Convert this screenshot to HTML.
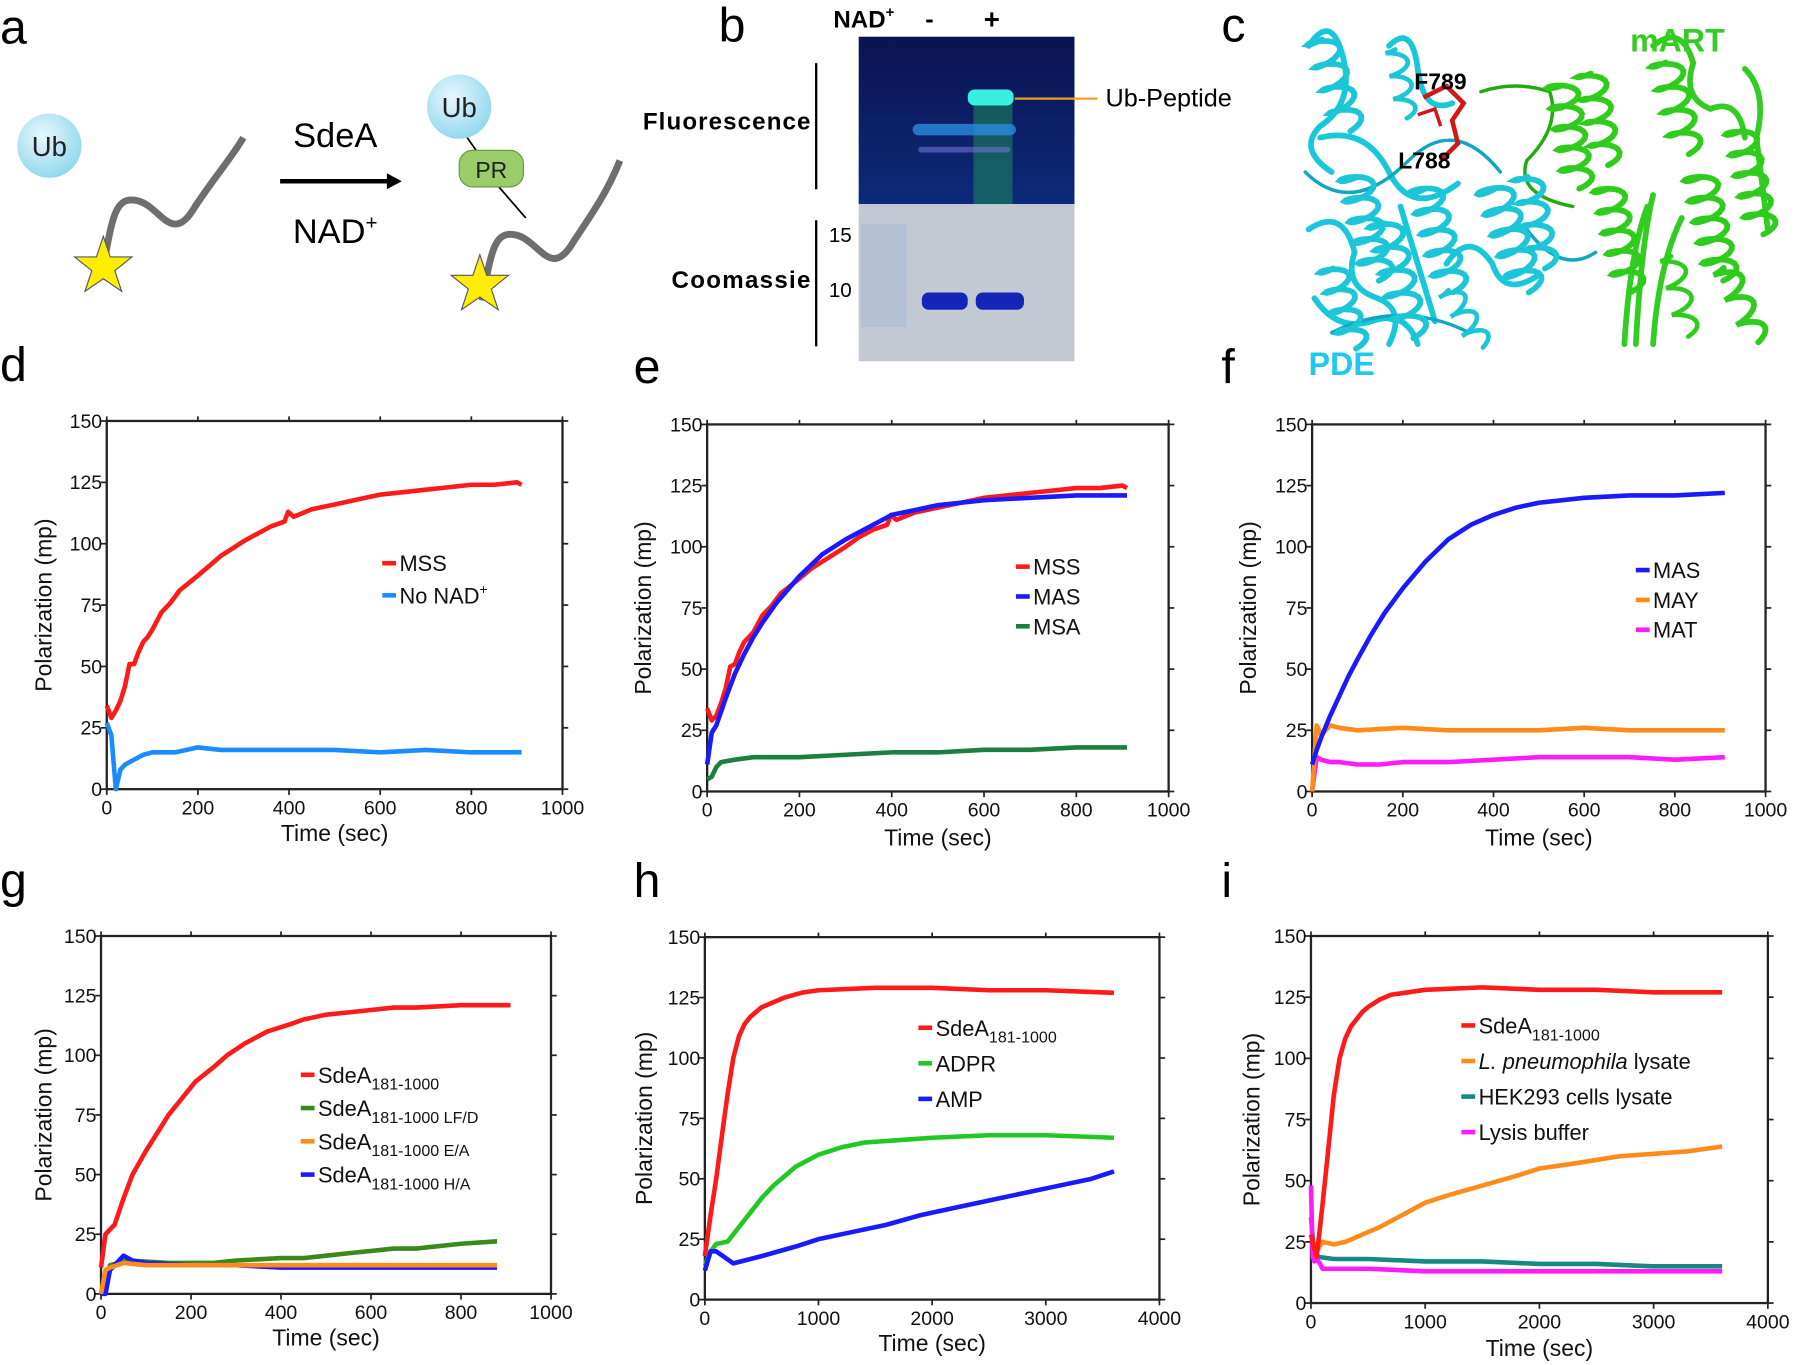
<!DOCTYPE html>
<html><head><meta charset="utf-8">
<style>
html,body{margin:0;padding:0;background:#fff;}
svg{display:block;font-family:"Liberation Sans",sans-serif;}
</style></head>
<body>
<svg id="fig" width="1800" height="1365" viewBox="0 0 1568 1190" preserveAspectRatio="none" xmlns="http://www.w3.org/2000/svg">
<defs>
<radialGradient id="ubg" cx="40%" cy="35%" r="70%"><stop offset="0" stop-color="#e8f8fd"/><stop offset="1" stop-color="#8ed6ee"/></radialGradient>
<linearGradient id="flg" x1="0" y1="0" x2="0" y2="1"><stop offset="0" stop-color="#0b1450"/><stop offset="1" stop-color="#0c2a7a"/></linearGradient>
</defs>
<g font-size="42" fill="#000">
<text x="0" y="38">a</text>
<text x="626" y="36">b</text>
<text x="1064" y="36">c</text>
<text x="0" y="332">d</text>
<text x="552" y="334">e</text>
<text x="1064" y="334">f</text>
<text x="0" y="782">g</text>
<text x="552" y="782">h</text>
<text x="1064" y="782">i</text>
</g>
<!-- panel a -->
<g>
<circle cx="43" cy="127" r="28" fill="url(#ubg)"/>
<text x="43" y="136" font-size="24" text-anchor="middle" fill="#222">Ub</text>
<path d="M90,232 C98,190 100,170 120,175 C140,180 150,215 170,180 C190,150 200,140 212,120" fill="none" stroke="#6e6e6e" stroke-width="6"/>
<polygon points="90,206 96,224 115,224 100,236 106,254 90,243 74,254 80,236 65,224 84,224" fill="#ffee00" stroke="#556" stroke-width="1"/>
<text x="292" y="128" font-size="30" text-anchor="middle">SdeA</text>
<line x1="244" y1="158" x2="340" y2="158" stroke="#000" stroke-width="4"/>
<polygon points="337,151 350,158 337,165" fill="#000"/>
<text x="292" y="212" font-size="30" text-anchor="middle">NAD<tspan font-size="18" dy="-12">+</tspan></text>
<path d="M420,262 C428,220 430,200 450,205 C470,210 480,245 500,210 C520,180 530,165 540,140" fill="none" stroke="#6e6e6e" stroke-width="6"/>
<line x1="400" y1="110" x2="428" y2="150" stroke="#000" stroke-width="1.5"/>
<line x1="432" y1="160" x2="458" y2="190" stroke="#000" stroke-width="1.5"/>
<circle cx="400" cy="93" r="28" fill="url(#ubg)"/>
<text x="400" y="102" font-size="24" text-anchor="middle" fill="#222">Ub</text>
<rect x="400" y="131" width="56" height="32" rx="12" fill="#9acd6a" stroke="#5f9a3a"/>
<text x="428" y="155" font-size="20" text-anchor="middle" fill="#222">PR</text>
<polygon points="418,222 424,240 443,240 428,252 434,270 418,259 402,270 408,252 393,240 412,240" fill="#ffee00" stroke="#556" stroke-width="1"/>
</g>
<!-- panel b -->
<g>
<text x="726" y="24" font-size="21" font-weight="bold">NAD<tspan font-size="13" dy="-9">+</tspan></text>
<text x="806" y="24" font-size="22" font-weight="bold">-</text>
<text x="857" y="25" font-size="24" font-weight="bold">+</text>
<rect x="748" y="32" width="188" height="146" fill="url(#flg)"/>
<rect x="848" y="85" width="34" height="93" fill="#1e8a5a" opacity="0.55"/>
<rect x="843" y="78" width="40" height="14" rx="6" fill="#39f0e0"/>
<rect x="795" y="108" width="90" height="10" rx="5" fill="#2a8ae0" opacity="0.8"/>
<rect x="800" y="128" width="80" height="5" rx="2" fill="#6a70d0" opacity="0.6"/>
<rect x="748" y="178" width="188" height="137" fill="#c3c9d3"/>
<rect x="750" y="195" width="40" height="90" fill="#9fb3d6" opacity="0.4"/>
<rect x="803" y="255" width="40" height="15" rx="6" fill="#1426b8"/>
<rect x="850" y="255" width="42" height="15" rx="6" fill="#1426b8"/>
<line x1="711" y1="55" x2="711" y2="165" stroke="#000" stroke-width="2"/>
<line x1="711" y1="192" x2="711" y2="302" stroke="#000" stroke-width="2"/>
<text x="706" y="113" font-size="21" font-weight="bold" text-anchor="end" textLength="146">Fluorescence</text>
<text x="706" y="251" font-size="21" font-weight="bold" text-anchor="end" textLength="121">Coomassie</text>
<text x="722" y="211" font-size="18">15</text>
<text x="722" y="259" font-size="18">10</text>
<line x1="884" y1="86" x2="956" y2="86" stroke="#f0a020" stroke-width="2"/>
<text x="963" y="93" font-size="22">Ub-Peptide</text>
</g>
<!-- panel c -->
<g id="structure" fill="none" stroke-linecap="round">
<g stroke="#18c8d8" stroke-width="5">
<path d="M1140,40 q20,-30 30,10 q10,40 -20,60 q-20,20 10,40"/>
<path d="M1220,180 l30,100"/>
<path d="M1140,200 q30,-20 40,20 q-10,30 20,40 q25,10 10,40"/>
<path d="M1210,40 q20,-20 25,20 q5,40 30,30"/>
<path d="M1150,120 q40,-10 60,30 q20,40 60,10"/>
<path d="M1260,230 q20,-30 40,0 q10,30 40,10"/>
<path d="M1145,260 q20,30 50,20 q30,-10 40,20"/>
</g>
<g stroke="#0fa8c0" stroke-width="3">
<path d="M1137,150 q40,40 90,-10 q40,-40 80,10"/>
<path d="M1160,290 q60,-30 120,0"/>
<path d="M1330,200 q30,40 60,20"/>
<path d="M1290,80 q30,-10 60,0 q10,30 -20,60 q-10,30 40,40" stroke="#22aa10"/>
</g>
<g stroke="#33cc22" stroke-width="5">
<path d="M1415,300 q5,-80 20,-120"/>
<path d="M1440,300 q5,-70 25,-110"/>
<path d="M1425,300 q5,-90 15,-130"/>
<path d="M1520,60 q20,20 10,60 l10,80"/>
<path d="M1440,40 q25,-20 35,15 q-10,30 15,40 q25,-10 30,25"/>
</g>
</g>
<g fill="none">
<path d="M1240,85 l20,-10 l15,15 l-10,15 l5,20 l-15,15" stroke="#d01818" stroke-width="4"/>
<path d="M1235,100 l15,-5 l5,15" stroke="#d01818" stroke-width="3"/>
</g>
<text x="1232" y="78" font-size="20" font-weight="bold">F789</text>
<text x="1218" y="147" font-size="20" font-weight="bold">L788</text>
<text x="1420" y="45" font-size="28" font-weight="bold" fill="#33cc22">mART</text>
<text x="1140" y="327" font-size="28" font-weight="bold" fill="#1ec8f0">PDE</text>
<g id="charts"></g>
</svg>
<script>
// ---- Panel d data ----
const dMssT = [0,10,20,30,40,50,60,70,80,90,100,120,140,160,180,200,225,250,275,300,330,360,390,398,410,450,500,550,600,650,700,750,800,850,900,910];
const dMssV = [34,29,32,36,42,51,51,56,60,62,65,72,76,81,84,87,91,95,98,101,104,107,109,113,111,114,116,118,120,121,122,123,124,124,125,124];
const dNoNadT = [0,10,20,30,40,60,80,100,150,200,250,300,400,500,600,700,800,910];
const dNoNadV = [27,22,0,8,10,12,14,15,15,17,16,16,16,16,15,16,15,15];
// ---- Panel e data ----
const eMssT = dMssT;
const eMssV = [34,29,31,36,42,51,52,57,61,63,65,72,76,81,84,87,91,94,97,100,104,107,109,113,111,114,116,118,120,121,122,123,124,124,125,124];
const eMasT = [0,10,20,40,60,80,100,120,150,200,250,300,350,400,450,500,600,700,800,910];
const eMasV = [11,24,27,38,48,56,63,69,77,88,97,103,108,113,115,117,119,120,121,121];
const eMsaT = [0,10,20,30,60,100,200,300,400,500,600,700,800,900,910];
const eMsaV = [5,6,10,12,13,14,14,15,16,16,17,17,18,18,18];
// ---- Panel f data ----
const fMasT = [0,10,20,40,60,80,100,130,160,200,250,300,350,400,450,500,600,700,800,910];
const fMasV = [11,17,22,31,39,47,54,64,73,83,94,103,109,113,116,118,120,121,121,122];
const fMayT = [0,10,20,40,60,100,200,300,400,500,600,700,800,910];
const fMayV = [0,27,23,27,26,25,26,25,25,25,26,25,25,25];
const fMatT = [0,10,20,40,60,100,150,200,300,400,500,600,700,800,910];
const fMatV = [0,14,13,12,12,11,11,12,12,13,14,14,14,13,14];
// ---- Panel g data ----
const gRedT = [0,10,30,50,70,100,130,150,180,210,250,280,320,370,420,450,500,550,600,650,700,800,850,910];
const gRedV = [11,25,29,40,50,60,69,75,82,89,95,100,105,110,113,115,117,118,119,120,120,121,121,121];
const gGreenT = [0,20,60,150,250,300,400,450,500,550,650,700,800,880];
const gGreenV = [0,12,14,13,13,14,15,15,16,17,19,19,21,22];
const gOrangeT = [0,10,20,50,100,200,300,400,500,600,700,800,880];
const gOrangeV = [0,10,11,13,12,12,12,12,12,12,12,12,12];
const gBlueT = [0,10,20,30,50,70,100,200,300,400,500,600,700,800,880];
const gBlueV = [0,0,10,12,16,14,13,12,12,11,11,11,11,11,11];
// ---- Panel h data ----
const hRedT = [0,50,100,150,200,250,300,350,400,450,500,600,700,850,1000,1500,2000,2500,3000,3600];
const hRedV = [18,35,50,68,85,100,109,114,117,119,121,123,125,127,128,129,129,128,128,127];
const hGreenT = [0,50,100,200,300,400,500,600,700,800,1000,1200,1400,1700,2000,2500,3000,3600];
const hGreenV = [14,20,23,24,30,36,42,47,51,55,60,63,65,66,67,68,68,67];
const hBlueT = [0,50,100,250,500,800,1000,1300,1600,1900,2200,2500,2800,3100,3400,3600];
const hBlueV = [12,20,20,15,18,22,25,28,31,35,38,41,44,47,50,53];
// ---- Panel i data ----
const iRedT = [0,30,50,100,150,200,250,300,350,400,450,500,600,700,850,1000,1500,2000,2500,3000,3600];
const iRedV = [28,22,19,40,62,85,100,108,113,116,119,121,124,126,127,128,129,128,128,127,127];
const iOrangeT = [0,30,60,100,200,300,400,500,600,800,1000,1200,1500,1800,2000,2300,2700,3000,3300,3600];
const iOrangeV = [20,20,22,25,24,25,27,29,31,36,41,44,48,52,55,57,60,61,62,64];
const iTealT = [0,30,50,200,500,1000,1500,2000,2500,3000,3600];
const iTealV = [35,20,19,18,18,17,17,16,16,15,15];
const iMagT = [0,15,30,50,80,100,200,500,1000,2000,3000,3600];
const iMagV = [48,19,17,18,16,14,14,14,13,13,13,13];

const NS = 'http://www.w3.org/2000/svg';
function mk(tag, attrs, parent){ const e=document.createElementNS(NS,tag); for(const k in attrs) e.setAttribute(k,attrs[k]); parent.appendChild(e); return e; }

// decorative helices for the protein structure (panel c)
const struct = document.getElementById('structure');
function helix(x0,y0,x1,y1,w,turns,col,sw){
  const dx=x1-x0, dy=y1-y0, L=Math.hypot(dx,dy), ux=dx/L, uy=dy/L, px=-uy, py=ux;
  let d='';
  const N=turns*16;
  for(let i=0;i<=N;i++){
    const t=i/N, a=t*turns*2*Math.PI;
    const along=t*L + Math.cos(a)*w*0.35, side=Math.sin(a)*w;
    const x=x0+ux*along+px*side, y=y0+uy*along+py*side;
    d += (i?'L':'M')+x.toFixed(1)+','+y.toFixed(1);
  }
  const p = mk('path',{d:d,stroke:col,'stroke-width':sw,fill:'none'},struct);
  
  
}
const C='#1cc6d6', G='#2fcc1e';
helix(1150,30,1175,110,13,4,C,5);
helix(1180,150,1200,240,14,5,C,5);
helix(1205,190,1230,290,14,5,C,5);
helix(1240,160,1265,250,14,5,C,5);
helix(1300,160,1330,250,15,5,C,5);
helix(1330,150,1345,230,12,4,C,5);
helix(1160,230,1180,300,12,4,C,5);
helix(1260,250,1290,300,10,3,C,4);
helix(1215,40,1225,100,9,3,C,4);
helix(1360,70,1375,160,13,5,G,5);
helix(1385,60,1400,140,12,4,G,5);
helix(1400,160,1420,250,13,5,G,5);
helix(1450,50,1470,130,13,4,G,5);
helix(1480,150,1500,240,14,5,G,5);
helix(1515,110,1535,200,13,5,G,5);
helix(1500,230,1530,295,11,3,G,5);
helix(1455,220,1470,290,10,3,G,4);

const root = document.getElementById('charts');
function panel(key, L, R, T, B, xMax, xStep, series, legend, titleY, ytX){
  const g = mk('g',{},root);
  
  
  const xs = v => L + (v/xMax)*(R-L);
  const ys = v => B - (v/150)*(B-T);
  const frame = mk('rect',{x:L,y:T,width:R-L,height:B-T,fill:'none',stroke:'#222','stroke-width':2},g);
  
  
  for(let v=0; v<=150; v+=25){
    const y = ys(v);
    mk('line',{x1:L-5,y1:y,x2:L,y2:y,stroke:'#222','stroke-width':1.5},g);
    mk('line',{x1:R,y1:y,x2:R+5,y2:y,stroke:'#222','stroke-width':1.5},g);
    const t = mk('text',{x:L-4,y:y+6,'font-size':17,'text-anchor':'end',fill:'#111'},g);
    t.textContent = v;
    
    
  }
  for(let v=0; v<=xMax; v+=xStep){
    const x = xs(v);
    mk('line',{x1:x,y1:B,x2:x,y2:B+5,stroke:'#222','stroke-width':1.5},g);
    mk('line',{x1:x,y1:T-4,x2:x,y2:T,stroke:'#222','stroke-width':1.5},g);
    const t = mk('text',{x:x,y:B+22,'font-size':17,'text-anchor':'middle',fill:'#111'},g);
    t.textContent = v;
    
    
  }
  const xt = mk('text',{x:(L+R)/2,y:titleY,'font-size':20,'text-anchor':'middle',fill:'#111'},g);
  xt.textContent = 'Time (sec)';
  
  
  const cy = (T+B)/2;
  const yt = mk('text',{x:ytX,y:cy,'font-size':20,'text-anchor':'middle',fill:'#111',transform:'rotate(-90 '+ytX+' '+cy+')'},g);
  yt.textContent = 'Polarization (mp)';
  
  
  series.forEach(s=>{
    const pts = s.t.map((tv,i)=> xs(tv).toFixed(1)+','+ys(s.v[i]).toFixed(1)).join(' ');
    const p = mk('polyline',{points:pts,fill:'none',stroke:s.c,'stroke-width':4,'stroke-linejoin':'round'},g);
    
    
  });
  legend.items.forEach((it,i)=>{
    const y = legend.y + i*legend.dy;
    const lg = mk('g',{},g);
    
    
    mk('line',{x1:legend.x,y1:y-7,x2:legend.x+12,y2:y-7,stroke:it.c,'stroke-width':4},lg);
    const t = mk('text',{x:legend.x+15,y:y,'font-size':19,fill:'#111'},lg);
    t.innerHTML = it.label;
  });
}
const SUB = s => 'SdeA<tspan font-size="14" dy="6">'+s+'</tspan>';
panel('d',93,490,367,688,1000,200,[
  {t:dMssT,v:dMssV,c:'#ff1a1a',n:'mss'},{t:dNoNadT,v:dNoNadV,c:'#1a8cff',n:'no-nad'}],
  {x:333,y:498,dy:28,items:[{c:'#ff1a1a',label:'MSS'},{c:'#1a8cff',label:'No NAD<tspan font-size="12" dy="-8">+</tspan>'}]},733,45);
panel('e',616,1018,370,690,1000,200,[
  {t:eMssT,v:eMssV,c:'#ff1a1a',n:'mss'},{t:eMasT,v:eMasV,c:'#1a1aff',n:'mas'},{t:eMsaT,v:eMsaV,c:'#1a8040',n:'msa'}],
  {x:885,y:501,dy:26,items:[{c:'#ff1a1a',label:'MSS'},{c:'#1a1aff',label:'MAS'},{c:'#1a8040',label:'MSA'}]},737,567);
panel('f',1143,1538,370,690,1000,200,[
  {t:fMatT,v:fMatV,c:'#ff1aff',n:'mat'},{t:fMayT,v:fMayV,c:'#ff8c1a',n:'may'},{t:fMasT,v:fMasV,c:'#1a1aff',n:'mas'}],
  {x:1425,y:504,dy:26,items:[{c:'#1a1aff',label:'MAS'},{c:'#ff8c1a',label:'MAY'},{c:'#ff1aff',label:'MAT'}]},737,1094);
panel('g',88,480,816,1128,1000,200,[
  {t:gRedT,v:gRedV,c:'#ff1a1a',n:'sdea'},{t:gGreenT,v:gGreenV,c:'#3a8a1a',n:'lfd'},{t:gBlueT,v:gBlueV,c:'#1a1aff',n:'ha'},{t:gOrangeT,v:gOrangeV,c:'#ff8c1a',n:'ea'}],
  {x:262,y:944,dy:29,items:[{c:'#ff1a1a',label:SUB('181-1000')},{c:'#3a8a1a',label:SUB('181-1000 LF/D')},{c:'#ff8c1a',label:SUB('181-1000 E/A')},{c:'#1a1aff',label:SUB('181-1000 H/A')}]},1173,45);
panel('h',614,1010,817,1133,4000,1000,[
  {t:hRedT,v:hRedV,c:'#ff1a1a',n:'sdea'},{t:hGreenT,v:hGreenV,c:'#22c822',n:'adpr'},{t:hBlueT,v:hBlueV,c:'#1a1aff',n:'amp'}],
  {x:800,y:903,dy:31,items:[{c:'#ff1a1a',label:SUB('181-1000')},{c:'#22c822',label:'ADPR'},{c:'#1a1aff',label:'AMP'}]},1178,568);
panel('i',1142,1540,816,1136,4000,1000,[
  {t:iOrangeT,v:iOrangeV,c:'#ff8c1a',n:'lp-lysate'},{t:iTealT,v:iTealV,c:'#148a80',n:'hek-lysate'},{t:iMagT,v:iMagV,c:'#ff1aff',n:'lysis-buffer'},{t:iRedT,v:iRedV,c:'#ff1a1a',n:'sdea'}],
  {x:1273,y:901,dy:31,items:[{c:'#ff1a1a',label:SUB('181-1000')},{c:'#ff8c1a',label:'<tspan font-style="italic">L. pneumophila</tspan> lysate'},{c:'#148a80',label:'HEK293 cells lysate'},{c:'#ff1aff',label:'Lysis buffer'}]},1182,1097);
</script>
</body></html>
